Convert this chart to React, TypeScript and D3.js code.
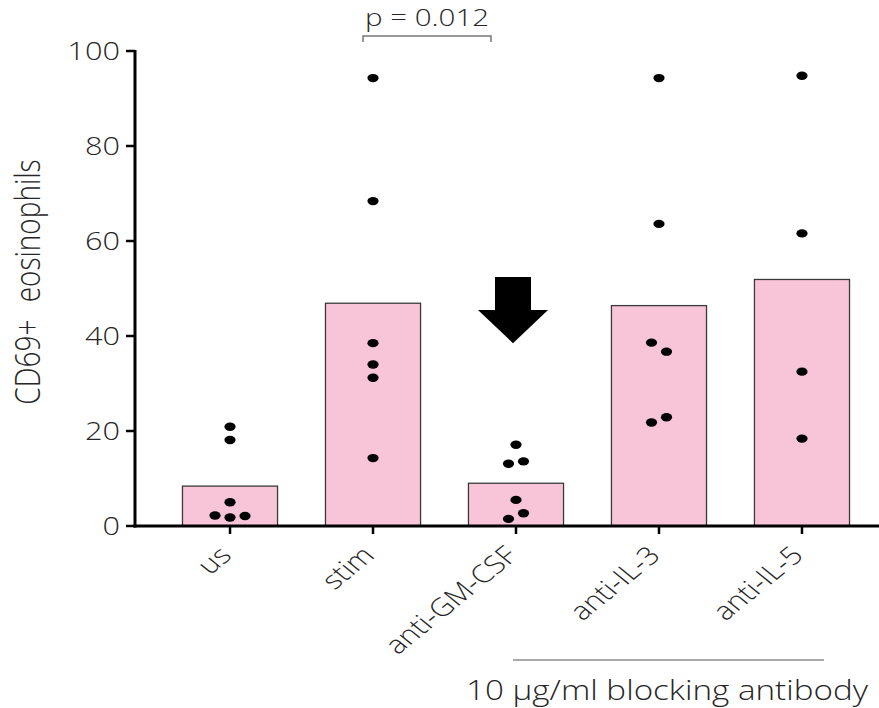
import * as d3 from 'd3'

// groups along x, bar heights (mean) and individual donor values
const groups = ['us', 'stim', 'anti-GM-CSF', 'anti-IL-3', 'anti-IL-5']
const barMeans = [8.4, 46.9, 9.0, 46.4, 51.9]
const dotValues = [
  [20.9, 18.1, 5.0, 2.2, 1.8, 2.1],
  [94.3, 68.4, 38.5, 34.0, 31.2, 14.3],
  [17.1, 13.1, 13.6, 5.5, 2.7, 1.5],
  [94.3, 63.6, 38.6, 36.7, 22.9, 21.8],
  [94.8, 61.6, 32.5, 18.4],
]
// horizontal spread of overlapping dots, in dot widths
const dotJitter = [
  [0, 0, 0, -1, 0, 1],
  [0, 0, 0, 0, 0, 0],
  [0, -0.5, 0.5, 0, 0.5, -0.5],
  [0, 0, -0.5, 0.5, 0.5, -0.5],
  [0, 0, 0, 0],
]
const yTicks = [0, 20, 40, 60, 80, 100]
const yLabel = 'CD69+ eosinophils'
const pText = 'p = 0.012'
const footnote = '10 µg/ml blocking antibody'

const W = 879
const H = 708
const SX = 1.23 // the original figure is stretched horizontally
const FONT = '"Open Sans", "Noto Sans", sans-serif'
const INK = '#262626'

export default function App() {
  const y = d3.scaleLinear().domain([0, 100]).range([526, 51])
  const x = d3
    .scaleBand<string>()
    .domain(groups)
    .range([135, 897])
    .paddingInner(0.335)
    .paddingOuter(0.332)
  const bw = x.bandwidth()
  const cx = (g: string) => (x(g) as number) + bw / 2
  const x0 = 135
  const y0 = y(0)

  const stimX = cx('stim')
  const gmX = cx('anti-GM-CSF')
  const arrowX = gmX - 3

  return (
    <svg
      width={W}
      height={H}
      style={{ position: 'absolute', left: 0, top: 0, background: '#fff' }}
      fontFamily={FONT}
      fontWeight={350}
    >
      {/* bars */}
      {groups.map((g, i) => (
        <rect
          key={g}
          x={x(g)}
          y={y(barMeans[i])}
          width={bw}
          height={y0 - y(barMeans[i])}
          fill="#f8c4d8"
          stroke="#3a3a3a"
          strokeWidth={1.3}
        />
      ))}

      {/* dots */}
      {groups.map((g, i) =>
        dotValues[i].map((v, j) => (
          <ellipse
            key={g + j}
            cx={cx(g) + dotJitter[i][j] * 15}
            cy={y(v)}
            rx={5.6}
            ry={4.2}
            fill="#000"
          />
        ))
      )}

      {/* y axis */}
      <line x1={x0} x2={x0} y1={y(100) - 1} y2={y0 + 1.5} stroke="#000" strokeWidth={3} />
      {yTicks.map((t) => (
        <g key={t}>
          <line x1={x0 - 9} x2={x0} y1={y(t)} y2={y(t)} stroke="#000" strokeWidth={2.5} />
          <text
            transform={`translate(${x0 - 15},${y(t)}) scale(${SX},1)`}
            textAnchor="end"
            dy="0.36em"
            fontSize={25}
            fill={INK}
          >
            {t}
          </text>
        </g>
      ))}
      <text
        transform={`translate(40,${282}) scale(${SX},1) rotate(-90)`}
        textAnchor="middle"
        fontSize={28}
        fill={INK}
        wordSpacing={10}
      >
        {yLabel}
      </text>

      {/* x axis */}
      <line x1={x0 - 1.5} x2={W} y1={y0} y2={y0} stroke="#000" strokeWidth={3} />
      {groups.map((g) => (
        <g key={g}>
          <line x1={cx(g)} x2={cx(g)} y1={y0} y2={y0 + 8} stroke="#000" strokeWidth={2.5} />
          <text
            transform={`translate(${cx(g) + 3},${y0 + 31}) scale(${SX},1) rotate(-45)`}
            textAnchor="end"
            fontSize={25}
            fill={INK}
          >
            {g}
          </text>
        </g>
      ))}

      {/* arrow pointing at anti-GM-CSF */}
      <path
        d={`M${arrowX - 18},${y(52.4)} H${arrowX + 18} V${y(45.5)} H${arrowX + 35} L${arrowX},${y(38.5)} L${arrowX - 35},${y(45.5)} H${arrowX - 18} Z`}
        fill="#000"
      />

      {/* significance bracket */}
      <path
        d={`M${stimX - 10},42 V36 H${gmX - 25} V42`}
        fill="none"
        stroke="#777"
        strokeWidth={1.5}
      />
      <text
        transform={`translate(${(stimX - 10 + gmX - 25) / 2},26) scale(${SX},1)`}
        textAnchor="middle"
        fontSize={24}
        fill={INK}
      >
        {pText}
      </text>

      {/* blocking antibody line */}
      <line x1={gmX - 3} x2={cx('anti-IL-5') + 22} y1={660} y2={660} stroke="#555" strokeWidth={1.2} />
      <text
        transform={`translate(${(gmX + cx('anti-IL-5')) / 2 + 8},700) scale(${SX},1)`}
        textAnchor="middle"
        fontSize={27}
        fill={INK}
      >
        {footnote}
      </text>
    </svg>
  )
}
